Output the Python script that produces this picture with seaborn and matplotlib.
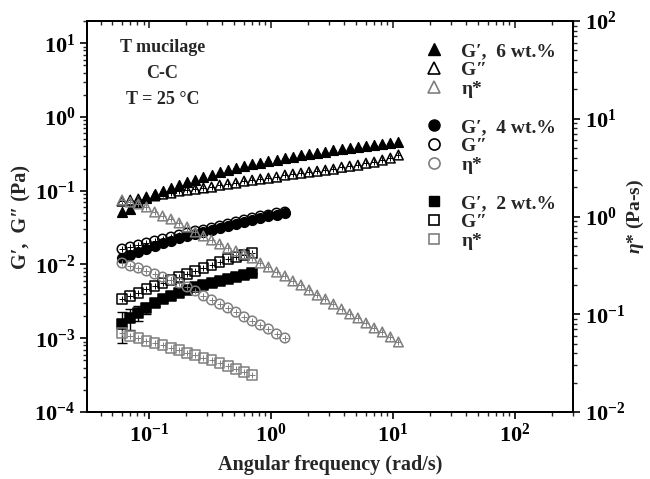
import matplotlib
matplotlib.use("Agg")
import matplotlib.pyplot as plt
from matplotlib.lines import Line2D
import seaborn as sns

# angular frequency (rad/s), shared by all sweeps (2 wt.% -> first 17, 4 wt.% -> first 21)
omega = [0.060, 0.070, 0.0816, 0.0951, 0.111, 0.129, 0.151, 0.176, 0.205, 0.239,
         0.279, 0.325, 0.379, 0.442, 0.515, 0.601, 0.700, 0.817, 0.952, 1.11,
         1.30, 1.51, 1.76, 2.05, 2.39, 2.79, 3.25, 3.79, 4.42, 5.16,
         6.01, 7.01, 8.18, 9.53, 11.1]

# 6 wt.%
g1_6 = [0.051, 0.056, 0.070, 0.080, 0.090, 0.099, 0.108, 0.119, 0.131, 0.139,
        0.153, 0.163, 0.179, 0.190, 0.203, 0.216, 0.231, 0.238, 0.253, 0.261,
        0.278, 0.287, 0.305, 0.315, 0.325, 0.335, 0.357, 0.368, 0.380, 0.392,
        0.404, 0.417, 0.430, 0.443, 0.457]
g2_6 = [0.0722, 0.0746, 0.077, 0.082, 0.085, 0.090, 0.093, 0.099, 0.102, 0.105,
        0.109, 0.112, 0.119, 0.123, 0.127, 0.135, 0.139, 0.144, 0.148, 0.153,
        0.163, 0.168, 0.173, 0.179, 0.184, 0.190, 0.196, 0.208, 0.215, 0.222,
        0.236, 0.244, 0.260, 0.277, 0.305]
eta_6 = [1.476, 1.407, 1.342, 1.251, 1.111, 1.012, 0.942, 0.859, 0.781, 0.694,
         0.632, 0.575, 0.523, 0.476, 0.444, 0.413, 0.376, 0.334, 0.304, 0.270,
         0.246, 0.219, 0.199, 0.177, 0.157, 0.143, 0.127, 0.113, 0.1007, 0.0916,
         0.0813, 0.0723, 0.0658, 0.0585, 0.0520]

# 4 wt.%
g1_4 = [0.01222, 0.0134, 0.01472, 0.01617, 0.01775, 0.0195, 0.02075, 0.0228, 0.02427,
        0.02584, 0.0275, 0.02924, 0.03112, 0.03311, 0.03524, 0.03758, 0.03999,
        0.04256, 0.04529, 0.04667, 0.04966]
g2_4 = [0.01617, 0.01722, 0.01832, 0.0195, 0.02075, 0.02208, 0.0235, 0.02501, 0.02661,
        0.02836, 0.02924, 0.03112, 0.03311, 0.03524, 0.03758, 0.03999, 0.04256,
        0.04529, 0.04667, 0.04966, 0.05129]
eta_4 = [0.334, 0.312, 0.297, 0.277, 0.258, 0.240, 0.224, 0.209, 0.190, 0.173,
         0.154, 0.140, 0.127, 0.116, 0.105, 0.0938, 0.0853, 0.0776, 0.0706, 0.0628,
         0.0571]

# 2 wt.%
g1_2 = [0.001556, 0.001879, 0.002194, 0.002565, 0.0030, 0.003396, 0.003733, 0.004095,
        0.004498, 0.004941, 0.00526, 0.005597, 0.005957, 0.006339, 0.006745,
        0.007178, 0.007638]
g1_2_err = [0.0007, 0.0006, 0.0005, 0.00045, 0.0003, 0.0002, 0.00015, 0.0001,
            0.0001, 0.0001, 0.0001, 0.0001, 0.0001, 0.0001, 0.0001, 0.0001, 0.0001]
g2_2 = [0.003396, 0.003733, 0.004095, 0.004645, 0.005095, 0.005597, 0.006152, 0.006745,
        0.007413, 0.008147, 0.008934, 0.009817, 0.01079, 0.01184, 0.01259, 0.0134,
        0.01426]
eta_2 = [0.0643, 0.0599, 0.0571, 0.0532, 0.0508, 0.0484, 0.0452, 0.0431, 0.0402,
         0.0383, 0.0356, 0.0340, 0.0317, 0.0296, 0.0275, 0.0257, 0.0239]

GRAY = "#7f7f7f"
MS = 48

sns.set_theme(style="ticks")
plt.rcParams["font.family"] = ["Liberation Serif", "DejaVu Serif"]
plt.rcParams["font.weight"] = "bold"
plt.rcParams["mathtext.fontset"] = "custom"
plt.rcParams["mathtext.rm"] = "Liberation Serif:bold"
plt.rcParams["mathtext.it"] = "Liberation Serif:italic:bold"
plt.rcParams["mathtext.bf"] = "Liberation Serif:bold"
plt.rcParams["mathtext.default"] = "rm"

fig = plt.figure(figsize=(6.5, 4.79), dpi=100)
ax = fig.add_axes([0.134, 0.140, 0.7475, 0.816])
ax2 = ax.twinx()


def draw(axis, x, y, marker, face, edge):
    n = len(y)
    sns.scatterplot(x=x[:n], y=y, ax=axis, marker=marker, s=MS, facecolor=face,
                    edgecolor=edge, linewidth=1.1, zorder=3)
    # thin cross from the error bars drawn inside each symbol
    sns.scatterplot(x=x[:n], y=y, ax=axis, marker="+", s=MS * 0.45, color=edge,
                    linewidth=0.7, zorder=4)


draw(ax, omega, g1_6, "^", "black", "black")
draw(ax, omega, g2_6, "^", "none", "black")
draw(ax2, omega, eta_6, "^", "none", GRAY)

draw(ax, omega, g1_4, "o", "black", "black")
draw(ax, omega, g2_4, "o", "none", "black")
draw(ax2, omega, eta_4, "o", "none", GRAY)

ax.errorbar(omega[:len(g1_2)], g1_2, yerr=g1_2_err, fmt="none", ecolor="black",
            elinewidth=1.0, capsize=3.5, capthick=1.0, zorder=2)
draw(ax, omega, g1_2, "s", "black", "black")
draw(ax, omega, g2_2, "s", "none", "black")
draw(ax2, omega, eta_2, "s", "none", GRAY)

ax.set_xscale("log")
ax.set_yscale("log")
ax2.set_yscale("log")
ax.set_xlim(0.031, 300)
ax.set_ylim(1e-4, 20)
ax2.set_ylim(1e-2, 1e2)

for a in (ax, ax2):
    for s in a.spines.values():
        s.set_linewidth(1.4)
        s.set_color("black")

ax.tick_params(axis="both", which="major", direction="out", length=5, width=1.2,
               labelsize=16, colors="black", top=False, right=False)
ax.tick_params(axis="both", which="minor", direction="out", length=3, width=1.0,
               top=False, right=False)
ax2.tick_params(axis="y", which="major", direction="out", length=5, width=1.2,
                labelsize=16, colors="black")
ax2.tick_params(axis="y", which="minor", direction="out", length=3, width=1.0)

top = ax.secondary_xaxis("top")
top.set_xscale("log")
top.tick_params(axis="x", which="major", direction="in", length=5, width=1.2,
                labeltop=False)
top.tick_params(axis="x", which="minor", direction="in", length=3, width=1.0)
top.spines["top"].set_linewidth(1.4)

ax.set_xlabel("Angular frequency (rad/s)", fontsize=14.5, fontweight="bold", labelpad=6)
ax.set_ylabel("G\u2032,  G\u2033 (Pa)", fontsize=14.5, fontweight="bold", labelpad=2)
ax2.set_ylabel(r"$\mathit{\eta}$* (Pa-s)", fontsize=14, fontweight="bold", labelpad=0)

ax.text(0.155, 0.955, "T mucilage\nC-C\nT = 25 \u00b0C", transform=ax.transAxes,
        ha="center", va="top", fontsize=13, fontweight="bold", linespacing=1.7,
        multialignment="center")

handles = [
    Line2D([], [], ls="none", marker="^", ms=8, mfc="black", mec="black", label="G\u2032,  6 wt.%"),
    Line2D([], [], ls="none", marker="^", ms=8, mfc="none", mec="black", mew=1.2, label="G\u2033"),
    Line2D([], [], ls="none", marker="^", ms=8, mfc="none", mec=GRAY, mew=1.2, label="\u03b7*"),
    Line2D([], [], ls="none", label=" "),
    Line2D([], [], ls="none", marker="o", ms=8, mfc="black", mec="black", label="G\u2032,  4 wt.%"),
    Line2D([], [], ls="none", marker="o", ms=8, mfc="none", mec="black", mew=1.2, label="G\u2033"),
    Line2D([], [], ls="none", marker="o", ms=8, mfc="none", mec=GRAY, mew=1.2, label="\u03b7*"),
    Line2D([], [], ls="none", label=" "),
    Line2D([], [], ls="none", marker="s", ms=7, mfc="black", mec="black", label="G\u2032,  2 wt.%"),
    Line2D([], [], ls="none", marker="s", ms=7, mfc="none", mec="black", mew=1.2, label="G\u2033"),
    Line2D([], [], ls="none", marker="s", ms=7, mfc="none", mec=GRAY, mew=1.2, label="\u03b7*"),
]
leg = ax2.legend(handles=handles, loc="upper left", bbox_to_anchor=(0.694, 0.945),
                 frameon=False, fontsize=14, labelspacing=0.07, handlelength=1.0,
                 handletextpad=0.9, borderaxespad=0, borderpad=0)
for t in leg.get_texts():
    t.set_fontweight("bold")

fig.savefig("out.png", dpi=100)
